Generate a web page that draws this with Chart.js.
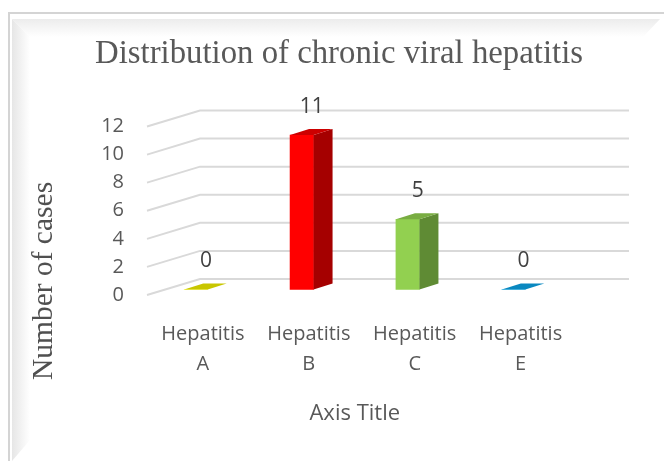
<!DOCTYPE html>
<html>
<head>
<meta charset="utf-8">
<script src="https://cdn.jsdelivr.net/npm/chart.js@4.4.1/dist/chart.umd.min.js"></script>
<style>
  html, body { margin: 0; padding: 0; background: #ffffff; }
  #wrap { width: 664px; height: 461px; position: relative; overflow: hidden; }
  canvas { display: block; }
</style>
</head>
<body>
<div id="wrap"><canvas id="c" width="664" height="461"></canvas></div>
<script>
// ---- data ----
const categories = [["Hepatitis", "A"], ["Hepatitis", "B"], ["Hepatitis", "C"], ["Hepatitis", "E"]];
const caseCounts = [0, 11, 5, 0];
const yTicks = [0, 2, 4, 6, 8, 10, 12];
const chartTitle = "Distribution of chronic viral hepatitis";
const yTitle = "Number of cases";
const xTitle = "Axis Title";

// ---- styles ----
const frontColors = ['#ffff00', '#ff0000', '#92d050', '#00b0f0'];
const sideColors  = ['#a8a800', '#a50000', '#5f8b34', '#0078a8'];
const topColors   = ['#c8c600', '#cc0000', '#79ad42', '#0a88c0'];
const GRID = '#d9d9d9';
const TEXT = '#595959';
const SANS = '"Open Sans", "Liberation Sans", sans-serif';
const SERIF = '"Liberation Serif", "Times New Roman", serif';

const BAR_DX = 19, BAR_DY = -6;     // bar depth
const WALL_DX = 53, WALL_DY = -16;  // floor depth (front plane -> back wall)
const BAR_LIFT_PX = 5.5;            // bar front plane above floor front edge

const framePlugin = {
  id: 'frame',
  beforeDraw(chart) {
    const c = chart.ctx;
    c.save();
    let g = c.createLinearGradient(0, 19, 0, 37);
    g.addColorStop(0, '#ececec'); g.addColorStop(1, '#ffffff');
    c.fillStyle = g;
    c.beginPath();
    c.moveTo(12, 19); c.lineTo(660, 19); c.lineTo(643, 37); c.lineTo(30, 37); c.closePath();
    c.fill();
    g = c.createLinearGradient(12, 0, 30, 0);
    g.addColorStop(0, '#e6e6e6'); g.addColorStop(1, '#ffffff');
    c.fillStyle = g;
    c.beginPath();
    c.moveTo(12, 19); c.lineTo(30, 37); c.lineTo(30, 440); c.lineTo(12, 461); c.closePath();
    c.fill();
    c.strokeStyle = '#d4d4d4';
    c.lineWidth = 2;
    c.beginPath();
    c.moveTo(664, 13); c.lineTo(9, 13); c.lineTo(9, 461);
    c.stroke();
    c.restore();
  }
};

const wallPlugin = {
  id: 'wall3d',
  beforeDatasetsDraw(chart) {
    const c = chart.ctx, y = chart.scales.y, x = chart.scales.x;
    const frontLeft = x.left + 4;
    const backLeft = frontLeft + WALL_DX;
    const backRight = x.right + 62.5;
    c.save();
    c.strokeStyle = GRID;
    c.lineWidth = 2;
    yTicks.forEach(v => {
      const py = y.getPixelForValue(v);
      c.beginPath();
      c.moveTo(frontLeft, py);
      c.lineTo(backLeft, py + WALL_DY);
      c.lineTo(backRight, py + WALL_DY);
      c.stroke();
    });
    c.restore();
  }
};

const boxPlugin = {
  id: 'box3d',
  afterDatasetsDraw(chart) {
    const c = chart.ctx;
    const meta = chart.getDatasetMeta(0);
    c.save();
    meta.data.forEach((bar, i) => {
      const p = bar.getProps(['x', 'y', 'base', 'width'], true);
      const l = p.x - p.width / 2, r = p.x + p.width / 2;
      if (p.base - p.y > 0.5) {
        c.fillStyle = sideColors[i];
        c.beginPath();
        c.moveTo(r, p.y); c.lineTo(r + BAR_DX, p.y + BAR_DY);
        c.lineTo(r + BAR_DX, p.base + BAR_DY); c.lineTo(r, p.base);
        c.closePath(); c.fill();
      }
      c.fillStyle = topColors[i];
      c.beginPath();
      c.moveTo(l, p.y); c.lineTo(r, p.y);
      c.lineTo(r + BAR_DX, p.y + BAR_DY); c.lineTo(l + BAR_DX, p.y + BAR_DY);
      c.closePath(); c.fill();
      c.fillStyle = '#404040';
      c.font = '21px ' + SANS;
      c.textAlign = 'center';
      c.textBaseline = 'middle';
      c.fillText(String(caseCounts[i]), p.x + 10, p.y - 28);
    });
    c.restore();
  },
  afterDraw(chart) {
    const c = chart.ctx;
    c.save();
    c.translate(44, 281);
    c.rotate(-Math.PI / 2);
    c.fillStyle = '#505050';
    c.font = '29.5px ' + SERIF;
    c.textAlign = 'center';
    c.textBaseline = 'middle';
    c.fillText(yTitle, 0, 0);
    c.restore();
  }
};

const pxPerUnit = 168.5 / 12;
const lift = BAR_LIFT_PX / pxPerUnit;

new Chart(document.getElementById('c'), {
  type: 'bar',
  data: {
    labels: categories,
    datasets: [{
      data: caseCounts,
      yAxisID: 'yb',
      backgroundColor: frontColors,
      borderWidth: 0,
      barThickness: 23.5
    }]
  },
  options: {
    responsive: false,
    animation: false,
    devicePixelRatio: 1,
    layout: { padding: { left: 95, right: 81, top: 0, bottom: 0 } },
    plugins: {
      legend: { display: false },
      tooltip: { enabled: false },
      title: {
        display: true,
        text: chartTitle,
        color: TEXT,
        font: { family: SERIF, size: 33.5, weight: 'normal', lineHeight: 1.2 },
        padding: { top: 34, bottom: 52.3 }
      }
    },
    scales: {
      x: {
        type: 'category',
        grid: { display: false, drawTicks: false },
        border: { display: false },
        ticks: {
          color: TEXT,
          font: { family: SANS, size: 20, lineHeight: 1.5 },
          padding: 24,
          labelOffset: 7,
          maxRotation: 0,
          autoSkip: false
        },
        title: {
          display: true,
          text: xTitle,
          color: TEXT,
          font: { family: SANS, size: 22, lineHeight: 1.2 },
          padding: { top: 0, bottom: 33.8 }
        },
        afterFit: s => { s.height = 166; }
      },
      y: {
        position: 'left',
        min: yTicks[0],
        max: yTicks[yTicks.length - 1],
        grid: { display: false, drawTicks: false },
        border: { display: false },
        ticks: { color: TEXT, font: { family: SANS, size: 20 }, padding: 19 },
        afterBuildTicks: s => { s.ticks = yTicks.map(v => ({ value: v })); },
        afterFit: s => { s.width = 48; }
      },
      yb: {
        position: 'right',
        display: true,
        min: yTicks[0] - lift,
        max: yTicks[yTicks.length - 1] - lift,
        grid: { display: false, drawTicks: false },
        border: { display: false },
        ticks: { display: false },
        afterFit: s => { s.width = 16.5; }
      }
    }
  },
  plugins: [framePlugin, wallPlugin, boxPlugin]
});
</script>
</body>
</html>
